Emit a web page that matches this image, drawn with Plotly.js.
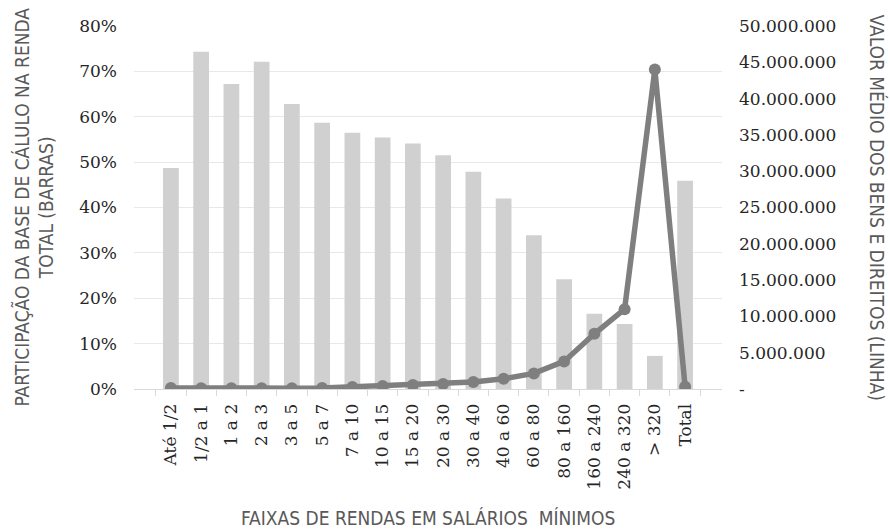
<!DOCTYPE html>
<html>
<head>
<meta charset="utf-8">
<script src="https://cdn.plot.ly/plotly-3.0.1.min.js"></script>
<style>html,body{margin:0;padding:0;background:#fff;}#chart{width:890px;height:529px;}</style>
</head>
<body>
<div id="chart"></div>
<script>
const categories = ["Até 1/2","1/2 a 1","1 a 2","2 a 3","3 a 5","5 a 7","7 a 10","10 a 15","15 a 20","20 a 30","30 a 40","40 a 60","60 a 80","80 a 160","160 a 240","240 a 320","> 320","Total"];
const barShare = [0.487,0.743,0.672,0.721,0.628,0.587,0.565,0.554,0.541,0.515,0.479,0.420,0.339,0.242,0.166,0.143,0.073,0.459];
const lineValue = [150000,100000,120000,110000,110000,150000,280000,400000,550000,700000,950000,1400000,2150000,3800000,7600000,11000000,44000000,300000];
const rightTickVals = [0,5000000,10000000,15000000,20000000,25000000,30000000,35000000,40000000,45000000,50000000];
const rightTickText = ["-","5.000.000","10.000.000","15.000.000","20.000.000","25.000.000","30.000.000","35.000.000","40.000.000","45.000.000","50.000.000"];
const leftTickVals = [0,0.1,0.2,0.3,0.4,0.5,0.6,0.7,0.8];
const leftTickText = ["0%","10%","20%","30%","40%","50%","60%","70%","80%"];

const titleFont = {family:"Liberation Sans Narrow, DejaVu Sans Condensed, Arial Narrow, sans-serif", size:19, color:"#595959"};
const tickFontY = {family:"DejaVu Serif, serif", size:17, color:"#262626"};
const tickFontX = {family:"DejaVu Serif, serif", size:17, color:"#262626"};

const data = [
  {type:"bar", x:categories, y:barShare, marker:{color:"#d0d0d0"}, width:0.52, yaxis:"y", hoverinfo:"x+y"},
  {type:"scatter", mode:"lines+markers", x:categories, y:lineValue, yaxis:"y2",
   line:{color:"#7f7f7f", width:5.5}, marker:{color:"#7f7f7f", size:12}}
];

const layout = {
  width:890, height:529,
  margin:{l:134, r:168, t:26, b:140},
  paper_bgcolor:"#fff", plot_bgcolor:"#fff",
  showlegend:false,
  bargap:0.48,
  xaxis:{type:"category", tickangle:-90, tickfont:tickFontX, showline:true, linecolor:"#d9d9d9", linewidth:1,
    ticks:"outside", tickson:"boundaries", ticklen:6, tickcolor:"#d9d9d9", showgrid:false, zeroline:false,
    automargin:false, ticklabelstandoff:7, title:{text:""}},
  yaxis:{range:[0,0.8], tickvals:leftTickVals, ticktext:leftTickText, tickfont:tickFontY,
    showgrid:true, gridcolor:"#e8e8e8", gridwidth:1, zeroline:false, showline:false, ticks:"",
    automargin:false, ticklabelstandoff:16, title:{text:""}},
  yaxis2:{range:[0,50000000], overlaying:"y", side:"right", tickvals:rightTickVals, ticktext:rightTickText,
    tickfont:tickFontY, showgrid:false, zeroline:false, showline:false, ticks:"", automargin:false,
    ticklabelstandoff:16, title:{text:""}},
  annotations:[
    {text:"PARTICIPAÇÃO DA BASE DE CÁLULO NA RENDA<br>TOTAL (BARRAS)", xref:"paper", yref:"paper", x:0, y:0.5,
     xshift:-100, xanchor:"center", yanchor:"middle", textangle:-90, showarrow:false, font:titleFont},
    {text:"VALOR MÉDIO DOS BENS E DIREITOS (LINHA)", xref:"paper", yref:"paper", x:1, y:0.5,
     xshift:155, xanchor:"center", yanchor:"middle", textangle:90, showarrow:false, font:titleFont},
    {text:"FAIXAS DE RENDAS EM SALÁRIOS  MÍNIMOS", xref:"paper", yref:"paper", x:0.5, y:0,
     yshift:-129, xanchor:"center", yanchor:"middle", showarrow:false, font:titleFont}
  ]
};
Plotly.newPlot("chart", data, layout, {displayModeBar:false, staticPlot:true});
</script>
</body>
</html>
